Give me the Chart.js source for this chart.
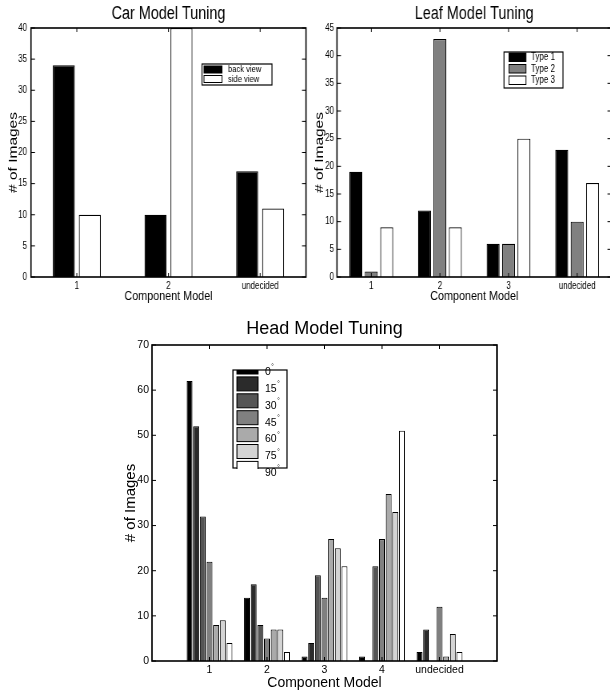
<!DOCTYPE html>
<html>
<head>
<meta charset="utf-8">
<script src="https://cdn.jsdelivr.net/npm/chart.js@4.4.0/dist/chart.umd.min.js"></script>
<style>
  html, body { margin: 0; padding: 0; background: #fff; }
  body { width: 610px; height: 691px; overflow: hidden; position: relative; }
  canvas { position: absolute; transform-origin: 0 0; }
  /* the two top figures are squeezed horizontally, like in the original */
  #carChart { left: 0; top: 0; transform: scaleX(0.8); }
  #leafChart { left: 307px; top: 0; transform: scaleX(0.8); }
  #headChart { left: 100px; top: 310px; }
</style>
</head>
<body>
<canvas id="carChart" width="390" height="305"></canvas>
<canvas id="leafChart" width="400" height="305"></canvas>
<canvas id="headChart" width="420" height="390"></canvas>
<script>
// Car model tuning
const carCategories = ["1", "2", "undecided"];
const carBackView = [34, 10, 17];
const carSideView = [10, 40, 11];

// Leaf model tuning
const leafCategories = ["1", "2", "3", "undecided"];
const leafType1 = [19, 12, 6, 23];
const leafType2 = [1, 43, 6, 10];
const leafType3 = [9, 9, 25, 17];

// Head model tuning (one series per viewing angle)
const headCategories = ["1", "2", "3", "4", "undecided"];
const headAngles = ["0°", "15°", "30°", "45°", "60°", "75°", "90°"];
const head0 = [62, 14, 1, 1, 2];
const head15 = [52, 17, 4, 0, 7];
const head30 = [32, 8, 19, 21, 0];
const head45 = [22, 5, 14, 27, 12];
const head60 = [8, 7, 27, 37, 1];
const head75 = [9, 7, 25, 33, 6];
const head90 = [4, 2, 21, 51, 2];
const headColors = ["#000000", "#2b2b2b", "#555555", "#808080", "#aaaaaa", "#d4d4d4", "#ffffff"];

Chart.defaults.font.family = "'Liberation Sans', Arial, sans-serif";
Chart.defaults.color = "#000";
Chart.defaults.animation = false;

// Box around the plot with inward ticks on all four sides (matlab look)
const matlabBox = {
  id: "matlabBox",
  afterDraw(chart, args, opts) {
    const { ctx, chartArea: a, scales } = chart;
    const xs = scales.x, ys = scales.y;
    ctx.save();
    ctx.strokeStyle = "#000";
    ctx.lineWidth = 1;
    ctx.beginPath();
    ys.ticks.forEach((t) => {
      const y = ys.getPixelForValue(t.value);
      ctx.moveTo(a.left, y); ctx.lineTo(a.left + opts.tickX, y);
      ctx.moveTo(a.right, y); ctx.lineTo(a.right - opts.tickX, y);
    });
    xs.ticks.forEach((t, i) => {
      if (xs.getLabelForValue(t.value) === "") return;
      const x = xs.getPixelForTick(i);
      ctx.moveTo(x, a.bottom); ctx.lineTo(x, a.bottom - opts.tickY);
      ctx.moveTo(x, a.top); ctx.lineTo(x, a.top + opts.tickY);
    });
    ctx.stroke();
    ctx.lineWidth = 1.6;
    ctx.strokeRect(a.left, a.top, a.right - a.left, a.bottom - a.top);
    ctx.restore();
  }
};

// Legend drawn inside the plot, in canvas coordinates
const boxLegend = {
  id: "boxLegend",
  afterDraw(chart, args, o) {
    if (!o.box) return;
    const ctx = chart.ctx;
    const b = o.box;
    ctx.save();
    ctx.fillStyle = "#fff";
    ctx.fillRect(b.x, b.y, b.w, b.h);
    ctx.strokeStyle = "#000";
    ctx.lineWidth = 1.2;
    ctx.strokeRect(b.x, b.y, b.w, b.h);
    chart.data.datasets.forEach((ds, i) => {
      const top = o.firstRow + i * o.rowH;
      ctx.save();
      ctx.beginPath();
      ctx.rect(b.x, b.y, b.w, b.h + 1);
      ctx.clip();
      ctx.fillStyle = ds.backgroundColor;
      ctx.fillRect(o.swatchX, top, o.swatchW, o.swatchH);
      ctx.lineWidth = 1;
      ctx.strokeStyle = "#000";
      ctx.strokeRect(o.swatchX, top, o.swatchW, o.swatchH);
      ctx.restore();

      const parts = ds.label.match(/^(.*?)(°?)$/);
      ctx.fillStyle = "#000";
      ctx.textBaseline = "middle";
      ctx.font = o.fontSize + "px 'Liberation Sans', Arial, sans-serif";
      ctx.fillText(parts[1], o.textX, top + o.textDy);
      if (parts[2]) {
        const w = ctx.measureText(parts[1]).width;
        ctx.font = (o.fontSize * 0.6) + "px 'Liberation Sans', Arial, sans-serif";
        ctx.fillText(parts[2], o.textX + w + 0.5, top + o.textDy - o.fontSize * 0.45);
      }
    });
    ctx.restore();
  }
};

function tuningChart(id, cfg) {
  const ctx = document.getElementById(id).getContext("2d");
  return new Chart(ctx, {
    type: "bar",
    data: { labels: cfg.labels, datasets: cfg.datasets },
    plugins: [matlabBox, boxLegend],
    options: {
      responsive: false,
      devicePixelRatio: 1,
      layout: { padding: { left: 0, right: cfg.padRight, top: 0, bottom: 0 } },
      datasets: {
        bar: {
          categoryPercentage: cfg.catPct,
          barPercentage: cfg.barPct,
          borderColor: "#000",
          borderWidth: cfg.borderWidth,
          borderSkipped: "bottom"
        }
      },
      plugins: {
        legend: { display: false },
        tooltip: { enabled: false },
        title: {
          display: true,
          text: cfg.title,
          fullSize: false,
          color: "#000",
          font: { size: cfg.titleSize, weight: "normal" },
          padding: cfg.titlePad
        },
        matlabBox: { tickX: cfg.tickX, tickY: 4 },
        boxLegend: cfg.legend
      },
      scales: {
        x: {
          offset: cfg.offset,
          grid: { display: false, drawTicks: false },
          border: { display: false },
          ticks: { padding: 3, maxRotation: 0, autoSkip: false, font: { size: cfg.tickSize } },
          title: {
            display: true,
            text: "Component Model",
            font: { size: cfg.labelSize },
            padding: { top: 0, bottom: cfg.xTitlePad }
          },
          afterFit: (scale) => { scale.height = cfg.xHeight; }
        },
        y: {
          min: 0,
          max: cfg.yMax,
          grid: { display: false, drawTicks: false },
          border: { display: false },
          ticks: { stepSize: cfg.yStep, padding: cfg.yTickPad, font: { size: cfg.tickSize } },
          title: {
            display: true,
            text: "# of Images",
            font: { size: cfg.yLabelSize },
            padding: { top: cfg.yTitlePad, bottom: 0 }
          },
          afterFit: (scale) => { scale.width = cfg.yWidth; }
        }
      }
    }
  });
}

tuningChart("carChart", {
  title: "Car Model Tuning",
  labels: carCategories,
  datasets: [
    { label: "back view", data: carBackView, backgroundColor: "#000000" },
    { label: "side view", data: carSideView, backgroundColor: "#ffffff" }
  ],
  offset: true, catPct: 0.567, barPct: 0.846, borderWidth: 1.2,
  yMax: 40, yStep: 5,
  padRight: 7.5, yWidth: 38.75, xHeight: 28,
  titleSize: 18, titlePad: { top: 3.2, bottom: 3.2 },
  labelSize: 13.5, yLabelSize: 15.5, tickSize: 10, tickX: 5,
  xTitlePad: 0.9, yTitlePad: 7, yTickPad: 5,
  legend: {
    box: { x: 252.5, y: 64, w: 87.5, h: 21 },
    firstRow: 66, rowH: 9.5, swatchX: 255, swatchW: 22.5, swatchH: 7,
    textX: 285, textDy: 3.8, fontSize: 9.5
  }
});

tuningChart("leafChart", {
  title: "Leaf Model Tuning",
  labels: leafCategories,
  datasets: [
    { label: "Type 1", data: leafType1, backgroundColor: "#000000" },
    { label: "Type 2", data: leafType2, backgroundColor: "#808080" },
    { label: "Type 3", data: leafType3, backgroundColor: "#ffffff" }
  ],
  offset: true, catPct: 0.674, barPct: 0.84, borderWidth: 1.2,
  yMax: 45, yStep: 5,
  padRight: 19.4, yWidth: 37.5, xHeight: 28,
  titleSize: 18, titlePad: { top: 3.2, bottom: 3.2 },
  labelSize: 13.5, yLabelSize: 15.5, tickSize: 10, tickX: 5,
  xTitlePad: 0.9, yTitlePad: 6, yTickPad: 3.75,
  legend: {
    box: { x: 246.25, y: 52, w: 73.75, h: 36 },
    firstRow: 53, rowH: 11.5, swatchX: 252.5, swatchW: 21.25, swatchH: 8.5,
    textX: 280, textDy: 4.3, fontSize: 10
  }
});

const headSeries = [head0, head15, head30, head45, head60, head75, head90];
tuningChart("headChart", {
  title: "Head Model Tuning",
  // empty slots at both ends leave the wide margins of the original axis
  labels: ["", ...headCategories, ""],
  datasets: headSeries.map((values, i) => ({
    label: headAngles[i],
    data: [null, ...values, null],
    backgroundColor: headColors[i]
  })),
  offset: false, catPct: 0.81, barPct: 0.9, borderWidth: 1,
  yMax: 70, yStep: 10,
  padRight: 23, yWidth: 52, xHeight: 39,
  titleSize: 18, titlePad: { top: 8.2, bottom: 5.2 },
  labelSize: 14, yLabelSize: 15, tickSize: 10.5, tickX: 4,
  xTitlePad: 8.6, yTitlePad: 22, yTickPad: 3,
  legend: {
    box: { x: 133, y: 60, w: 54, h: 98 },
    firstRow: 50, rowH: 16.9, swatchX: 137, swatchW: 21, swatchH: 14,
    textX: 165, textDy: 12, fontSize: 10.5
  }
});
</script>
</body>
</html>
